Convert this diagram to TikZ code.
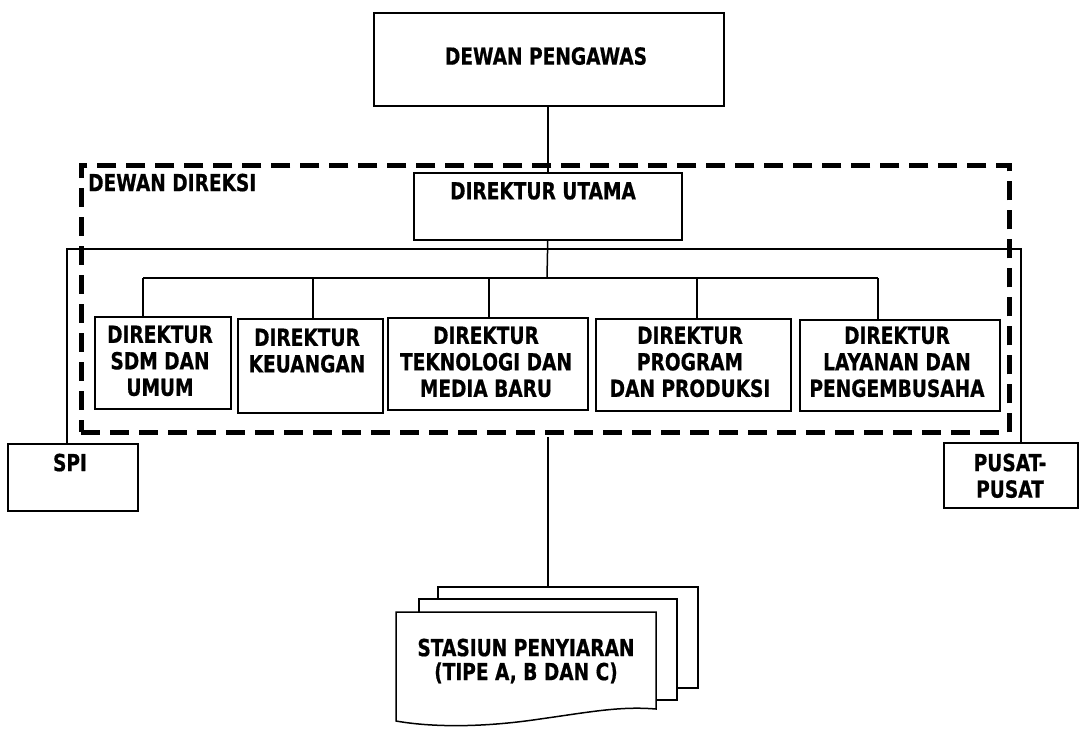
\documentclass[tikz,border=0pt]{standalone}
\usepackage{fontspec}
\newfontfamily\lbfont[FakeStretch=0.79,FakeBold=0.6]{DejaVu Sans}
\begin{document}
\begin{tikzpicture}[x=1pt,y=-1pt,
  box/.style={draw, line width=1.5pt, fill=white, inner sep=0pt, anchor=north west},
  txt/.style={font=\lbfont\bfseries\fontsize{23.5}{26.5}\selectfont, align=center, inner sep=0pt, anchor=north},
  conn/.style={line width=1.5pt},
  grp/.style={draw, line width=4.5pt, dash pattern=on 19pt off 10pt, inner sep=0pt, anchor=north west}]
\useasboundingbox (0,0) rectangle (1079,732);

% coordinates for connectors
\coordinate (bar) at (547,278);
\coordinate (bl) at (143,278);
\coordinate (br) at (878,278);
\coordinate (lx) at (67,249);
\coordinate (rx) at (1021,249);

% boxes
\node[box, minimum width=350pt, minimum height=93pt] (dp) at (373,12) {};
\node[box, minimum width=268pt, minimum height=67pt] (du) at (413,172) {};
\node[box, minimum width=136pt, minimum height=92pt] (d1) at (94,316) {};
\node[box, minimum width=145pt, minimum height=94pt] (d2) at (237,318) {};
\node[box, minimum width=200pt, minimum height=92pt] (d3) at (387,317) {};
\node[box, minimum width=195pt, minimum height=92pt] (d4) at (595,318) {};
\node[box, minimum width=200pt, minimum height=91pt] (d5) at (799,319) {};
\node[box, minimum width=130pt, minimum height=67pt] (spi) at (7,443) {};
\node[box, minimum width=134pt, minimum height=65pt] (pus) at (943,442) {};

% connectors
\draw[conn] (dp.south -| du.north) -- (du.north);
\draw[conn] (du.south) -- (bar);
\draw[conn] (bl) -- (br);
\foreach \n/\x in {d1/143, d2/313, d3/489, d4/697, d5/878}{
  \coordinate (j) at (\x,278);
  \draw[conn] (j) -- (j |- \n.north);
}
\draw[conn] (lx |- spi.north) -- (lx) -- (rx) -- (rx |- pus.north);

% station (multi-document)
\node[box, minimum width=260pt, minimum height=101pt] (back) at (437,586) {};
\node[box, minimum width=258pt, minimum height=101pt] (mid) at (418,598) {};
\draw[line width=1.5pt, fill=white] (396,612) coordinate (front) -- (656,612) -- (656,709)
  .. controls (620,706) and (590,712) .. (540,719)
  .. controls (480,728) and (430,727) .. (396,721) -- cycle;

% group frame
\node[grp, minimum width=928pt, minimum height=267pt] (dir) at (79,163) {};
\coordinate (c0) at (dir.south -| du.south);
\draw[conn] ([yshift=-2.5pt]c0) -- (c0 |- back.north);

% texts
\node[txt] (dpt) at (546,47) {DEWAN PENGAWAS};
\node[txt] (dut) at (543,182) {DIREKTUR UTAMA};
\node[txt, anchor=north west] (ddt) at (88,173.5) {DEWAN DIREKSI};
\node[txt] (d1t) at (160,325.5) {DIREKTUR\\SDM DAN\\UMUM};
\node[txt] (d2t) at (307,328.5) {DIREKTUR\\KEUANGAN};
\node[txt] (d3t) at (486,326.5) {DIREKTUR\\TEKNOLOGI DAN\\MEDIA BARU};
\node[txt] (d4t) at (690,326.5) {DIREKTUR\\PROGRAM\\DAN PRODUKSI};
\node[txt] (d5t) at (897,326.5) {DIREKTUR\\LAYANAN DAN\\PENGEMBUSAHA};
\node[txt] (spit) at (70,453.5) {SPI};
\node[txt] (pust) at (1010,453.5) {PUSAT-\\PUSAT};
\node[txt, font=\lbfont\bfseries\fontsize{23.5}{24}\selectfont] (stt) at (526,638.5) {STASIUN PENYIARAN\\(TIPE A, B DAN C)};
\end{tikzpicture}
\end{document}
